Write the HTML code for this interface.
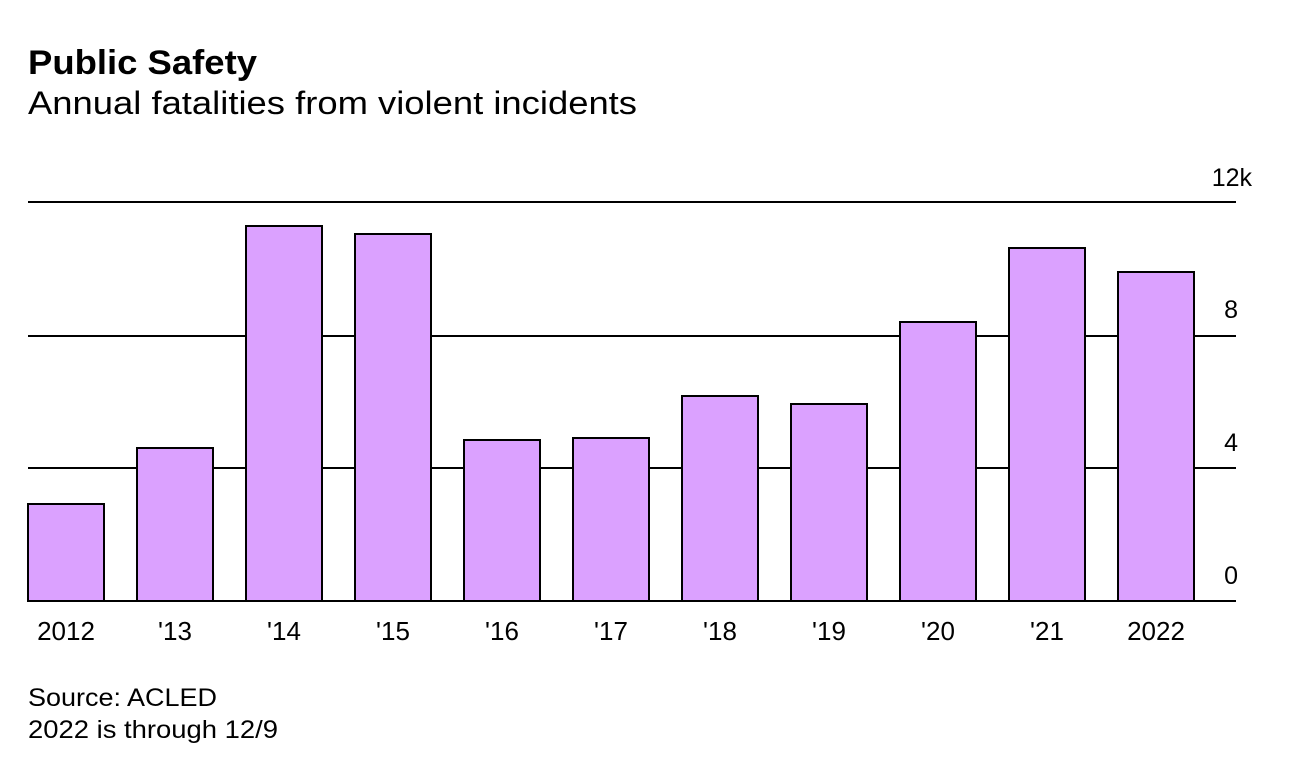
<!DOCTYPE html>
<html><head><meta charset="utf-8"><style>
body{margin:0;background:#fff;width:1296px;height:768px;overflow:hidden;font-family:"Liberation Sans",sans-serif;}
</style></head><body>
<svg width="1296" height="768" xmlns="http://www.w3.org/2000/svg" font-family="Liberation Sans, sans-serif">
<text x="28" y="74" font-size="34" font-weight="bold" fill="#000" textLength="229" lengthAdjust="spacingAndGlyphs">Public Safety</text>
<text x="28" y="114" font-size="32" fill="#000" textLength="609" lengthAdjust="spacingAndGlyphs">Annual fatalities from violent incidents</text>
<g stroke="#000" stroke-width="2">
<line x1="28" y1="202" x2="1236" y2="202"/>
<line x1="28" y1="336" x2="1236" y2="336"/>
<line x1="28" y1="468" x2="1236" y2="468"/>
</g>
<g fill="#dba1ff" stroke="#000" stroke-width="2">
<rect x="28" y="504" width="76" height="97"/>
<rect x="137" y="448" width="76" height="153"/>
<rect x="246" y="226" width="76" height="375"/>
<rect x="355" y="234" width="76" height="367"/>
<rect x="464" y="440" width="76" height="161"/>
<rect x="573" y="438" width="76" height="163"/>
<rect x="682" y="396" width="76" height="205"/>
<rect x="791" y="404" width="76" height="197"/>
<rect x="900" y="322" width="76" height="279"/>
<rect x="1009" y="248" width="76" height="353"/>
<rect x="1118" y="272" width="76" height="329"/>
</g>
<line x1="28" y1="601" x2="1236" y2="601" stroke="#000" stroke-width="2"/>
<g font-size="25" fill="#000" text-anchor="end">
<text x="1252" y="186">12k</text>
<text x="1238" y="318">8</text>
<text x="1238" y="451">4</text>
<text x="1238" y="584">0</text>
</g>
<g font-size="26" fill="#000" text-anchor="middle">
<text x="66" y="640">2012</text>
<text x="175" y="640">'13</text>
<text x="284" y="640">'14</text>
<text x="393" y="640">'15</text>
<text x="502" y="640">'16</text>
<text x="611" y="640">'17</text>
<text x="720" y="640">'18</text>
<text x="829" y="640">'19</text>
<text x="938" y="640">'20</text>
<text x="1047" y="640">'21</text>
<text x="1156" y="640">2022</text>
</g>
<text x="28" y="706" font-size="25" fill="#000" textLength="189" lengthAdjust="spacingAndGlyphs">Source: ACLED</text>
<text x="28" y="738" font-size="25" fill="#000" textLength="250" lengthAdjust="spacingAndGlyphs">2022 is through 12/9</text>
</svg>
</body></html>
